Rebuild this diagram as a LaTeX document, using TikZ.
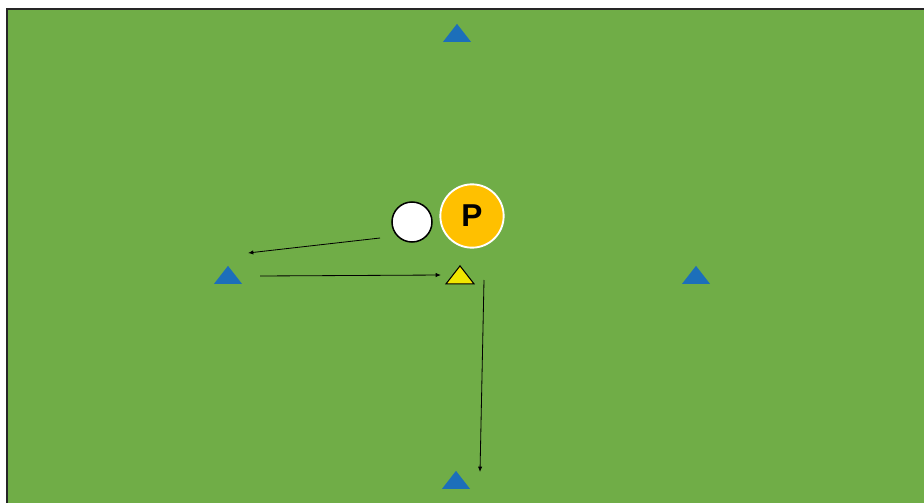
\documentclass[tikz,border=0pt]{standalone}
\usepackage{fontspec}
\setsansfont{Liberation Sans}
\usepackage{tikz}
\usetikzlibrary{arrows.meta,shapes.geometric}

\definecolor{pitch}{HTML}{70AD47}
\definecolor{coneblue}{HTML}{1C6FBA}
\definecolor{coneyellow}{HTML}{F2E600}
\definecolor{playerorange}{HTML}{FFC000}

\begin{document}
\begin{tikzpicture}[
    x=0.03cm, y=-0.03cm,
    cone/.style={isosceles triangle, isosceles triangle stretches, shape border rotate=90, minimum width=0.84cm, minimum height=0.54cm, inner sep=0pt, fill=coneblue},
    target/.style={cone, fill=coneyellow, draw=black, line width=0.9pt},
    ball/.style={circle, draw=black, fill=white, line width=1.3pt, minimum size=1.2cm, inner sep=0pt},
    player/.style={circle, draw=white, fill=playerorange, line width=1.6pt, minimum size=1.9cm, inner sep=0pt, font=\fontsize{27}{29}\selectfont\sffamily\bfseries},
    arr/.style={-{Latex[length=1.6mm,width=1.3mm]}, line width=0.7pt}
]
\useasboundingbox (0,0) rectangle (924,502);
\fill[pitch] (7,9) rectangle (930,510);
\draw[line width=1.8pt, black!85] (7,510) -- (7,9) -- (930,9);

% cones
\node[cone] (top) at (457,35) {};
\node[cone] (left) at (228,277) {};
\node[cone] (right) at (696,277) {};
\node[cone] (bottom) at (456,482) {};
\node[target] (mid) at (460,277) {};

% ball and player
\node[ball] (ball) at (412,222) {};
\node[player] (p) at (472,216) {P};

% runs
\coordinate (pass) at (248,253);
\coordinate (run) at (480,472);
\draw[arr] (380,238) -- (pass);
\draw[arr] (260,276) -- (441,275);
\draw[arr] (484,280) -- (run);
\end{tikzpicture}
\end{document}
